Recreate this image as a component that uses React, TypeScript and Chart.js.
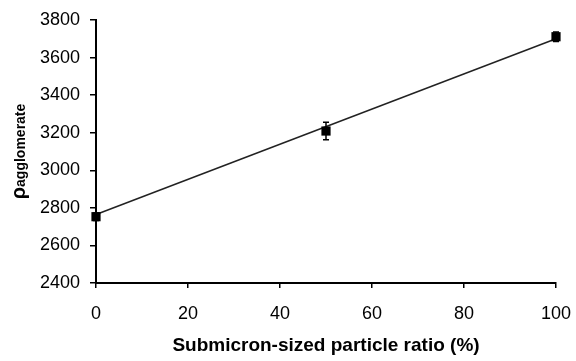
import { useEffect, useRef } from "react";
import { Chart, registerables } from "chart.js";

Chart.register(...registerables);

// Measured agglomerate density against submicron-sized particle ratio
const ratios = [0, 50, 100];
const densities = [2753, 3209, 3711];
const errors = [20, 47, 25];

// Linear trend line end points
const trendX = [0, 100];
const trendY = [2765, 3700];

// Axis ranges
const xMin = 0;
const xMax = 100;
const xStep = 20;
const yMin = 2400;
const yMax = 3800;
const yStep = 200;

const xTitle = "Submicron-sized particle ratio (%)";
const yTitleSymbol = "ρ";
const yTitleSub = "agglomerate";

const FONT = "'Liberation Sans', Arial, sans-serif";

Chart.defaults.font.family = FONT;
Chart.defaults.font.size = 18;
Chart.defaults.color = "#000";

const errorBarPlugin = {
  id: "errorBars",
  afterDatasetsDraw(chart: any) {
    const { ctx, scales } = chart;
    const xs = scales.x;
    const ys = scales.y;
    ctx.save();
    ctx.strokeStyle = "#000";
    ctx.lineWidth = 1.5;
    ratios.forEach((r, i) => {
      const px = xs.getPixelForValue(r);
      const top = ys.getPixelForValue(densities[i] + errors[i]);
      const bot = ys.getPixelForValue(densities[i] - errors[i]);
      ctx.beginPath();
      ctx.moveTo(px, top);
      ctx.lineTo(px, bot);
      ctx.moveTo(px - 3, top);
      ctx.lineTo(px + 3, top);
      ctx.moveTo(px - 3, bot);
      ctx.lineTo(px + 3, bot);
      ctx.stroke();
    });
    ctx.restore();
  },
};

const yTitlePlugin = {
  id: "yTitle",
  afterDraw(chart: any) {
    const { ctx } = chart;
    const cy = (chart.chartArea.top + chart.chartArea.bottom) / 2;
    ctx.save();
    ctx.fillStyle = "#000";
    ctx.textBaseline = "alphabetic";
    ctx.textAlign = "left";
    ctx.translate(25, cy);
    ctx.rotate(-Math.PI / 2);
    const bigFont = `bold 20px ${FONT}`;
    const smallFont = `bold 14px ${FONT}`;
    ctx.font = bigFont;
    const w1 = ctx.measureText(yTitleSymbol).width;
    ctx.font = smallFont;
    const w2 = ctx.measureText(yTitleSub).width;
    const start = -(w1 + w2) / 2;
    ctx.font = bigFont;
    ctx.fillText(yTitleSymbol, start, 0);
    ctx.font = smallFont;
    ctx.fillText(yTitleSub, start + w1, 0);
    ctx.restore();
  },
};

export default function App() {
  const canvasRef = useRef<HTMLCanvasElement | null>(null);

  useEffect(() => {
    document.body.style.margin = "0";
    const canvas = canvasRef.current;
    if (!canvas) return;

    const chart = new Chart(canvas, {
      type: "scatter",
      data: {
        datasets: [
          {
            label: "Density",
            data: ratios.map((r, i) => ({ x: r, y: densities[i] })),
            pointStyle: "rect",
            pointRadius: 6.5,
            pointBackgroundColor: "#000",
            pointBorderColor: "#000",
            pointBorderWidth: 0,
            showLine: false,
            clip: false,
            order: 0,
          },
          {
            label: "Trend",
            data: trendX.map((x, i) => ({ x, y: trendY[i] })),
            showLine: true,
            borderColor: "#222",
            borderWidth: 1.5,
            pointRadius: 0,
            fill: false,
            clip: false,
            order: 1,
          },
        ],
      },
      options: {
        animation: false,
        responsive: false,
        events: [],
        layout: { padding: { left: 0, top: 20, right: 20, bottom: 0 } },
        plugins: {
          legend: { display: false },
          tooltip: { enabled: false },
        },
        scales: {
          x: {
            type: "linear",
            min: xMin,
            max: xMax,
            afterFit(scale: any) {
              scale.height = 78;
              scale.paddingLeft = 0;
              scale.paddingRight = 0;
            },
            ticks: {
              stepSize: xStep,
              color: "#000",
              font: { family: FONT, size: 18 },
              padding: 15,
              maxRotation: 0,
              callback: (v: any) => String(v),
            },
            grid: {
              drawOnChartArea: false,
              drawTicks: true,
              tickLength: 5,
              color: "#000",
              lineWidth: 1.5,
            },
            border: { display: true, color: "#000", width: 2 },
            title: {
              display: true,
              text: xTitle,
              color: "#000",
              font: { family: FONT, size: 19, weight: "bold" },
              padding: { top: 4, bottom: 4 },
            },
          },
          y: {
            type: "linear",
            min: yMin,
            max: yMax,
            afterFit(scale: any) {
              scale.width = 96;
              scale.paddingTop = 0;
              scale.paddingBottom = 0;
            },
            ticks: {
              stepSize: yStep,
              color: "#000",
              font: { family: FONT, size: 18 },
              padding: 10,
              callback: (v: any) => String(v),
            },
            grid: {
              drawOnChartArea: false,
              drawTicks: true,
              tickLength: 6,
              color: "#000",
              lineWidth: 1.5,
            },
            border: { display: true, color: "#000", width: 2 },
            title: { display: false },
          },
        },
      },
      plugins: [errorBarPlugin, yTitlePlugin],
    });

    return () => chart.destroy();
  }, []);

  return (
    <div style={{ width: 576, height: 361, background: "#fff" }}>
      <canvas ref={canvasRef} width={576} height={361} />
    </div>
  );
}
